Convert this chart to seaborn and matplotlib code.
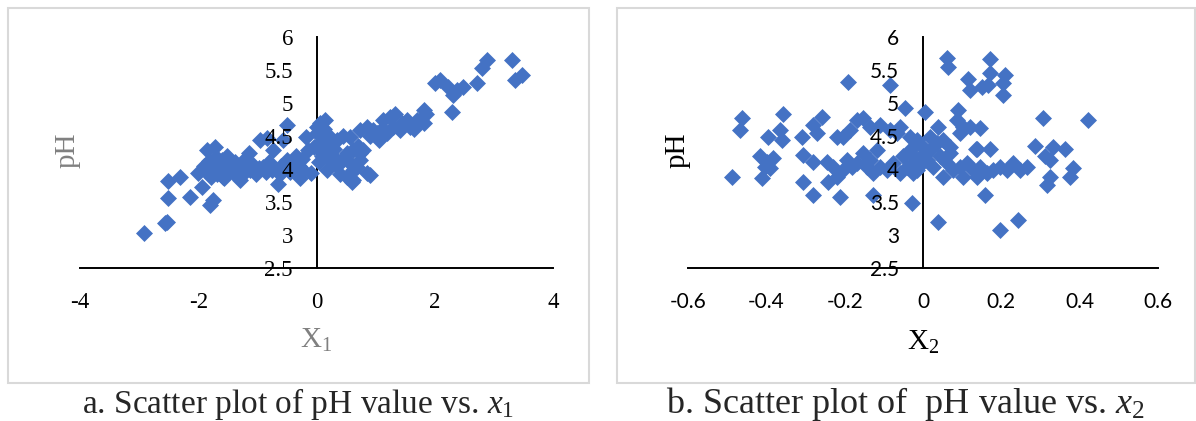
import matplotlib
matplotlib.use("Agg")
import matplotlib.pyplot as plt
import seaborn as sns
import pandas as pd
from matplotlib.patches import Rectangle

# pH vs x1 (panel a)
x1 = [-2.92, -2.56, -2.53, -2.51, -2.51, -2.31, -2.14, -1.75, -1.80, -1.94, -2.00, -1.86, -1.72,
      -1.90, -1.85, -1.82, -1.78, -1.75, -1.70, -1.68, -1.65, -1.62, -1.60, -1.57, -1.55, -1.52,
      -1.46, -1.58, -1.42, -1.38, -1.35, -1.30, -1.29, -1.25, -1.20, -1.15, -1.12, -1.08, -1.02,
      -0.98, -0.96, -0.84, -0.90, -0.86, -0.80, -0.76, -0.73, -0.65, -0.50, -0.56, -0.50, -0.39,
      -0.45, -0.22, -0.28, -0.17, -0.14, -0.10, -0.05, 0.00, 0.00, -0.60, -0.62, -0.35, -0.30,
      -0.25, 0.06, 0.14, 0.11, 0.23, 0.34, 0.06, 0.17, 0.17, 0.23, 0.40, 0.51, 0.62, 0.51, 0.62,
      0.74, 0.79, 0.57, 0.68, 0.74, 0.62, 0.85, 0.91, 0.60, 0.57, 0.74, 0.85, 0.96, 1.02, 1.05,
      1.13, 1.24, 1.33, 1.30, 1.41, 1.53, 1.58, 1.70, 1.81, 1.81, 1.86, 2.29, 2.00, 2.09, 2.23,
      2.31, 2.37, 2.48, 2.71, 2.80, 2.88, 3.30, 3.36, 3.47, 0.30, 0.45, 0.35, 0.28, 0.10, 0.05,
      0.00, 0.12, 0.90, 1.10, 1.20, 1.45, 1.65, 0.70, 0.45]
ph1 = [3.03, 3.18, 3.20, 3.56, 3.82, 3.88, 3.58, 3.53, 3.45, 3.73, 3.94, 4.29, 4.34,
       4.05, 3.95, 4.12, 3.88, 4.02, 4.18, 3.92, 4.08, 3.98, 4.14, 3.86, 4.04, 4.19,
       4.03, 3.88, 3.95, 4.10, 3.90, 4.02, 3.83, 4.12, 3.97, 4.24, 3.98, 4.06, 3.92,
       4.02, 4.44, 4.47, 4.03, 3.95, 4.10, 3.98, 4.29, 3.78, 4.67, 4.44, 4.14, 4.09,
       3.95, 3.98, 3.86, 4.49, 4.29, 3.94, 4.34, 4.64, 4.54, 4.05, 3.92, 4.20, 4.05,
       4.15, 4.69, 4.74, 4.44, 4.49, 4.44, 4.29, 4.34, 3.98, 4.14, 3.93, 3.88, 3.83, 4.24, 4.29,
       4.24, 4.29, 4.09, 4.03, 4.14, 3.98, 3.94, 3.91, 3.81, 4.49, 4.59, 4.64, 4.59, 4.54, 4.44,
       4.74, 4.79, 4.84, 4.64, 4.59, 4.74, 4.64, 4.74, 4.69, 4.89, 4.84, 4.87, 5.30, 5.35, 5.25,
       5.12, 5.20, 5.25, 5.30, 5.53, 5.65, 5.65, 5.35, 5.42, 4.30, 4.15, 4.05, 4.20, 4.20, 4.10,
       4.35, 4.60, 4.50, 4.60, 4.55, 4.70, 4.60, 4.35, 4.50]

# pH vs x2 (panel b)
x2 = [-0.488, -0.463, -0.467, -0.416, -0.399, -0.382, -0.391, -0.412, -0.403, -0.395, -0.357,
      -0.365, -0.361, -0.310, -0.306, -0.306, -0.280, -0.280, -0.280, -0.259, -0.271, -0.246,
      -0.229, -0.242, -0.220, -0.212, -0.220, -0.203, -0.186, -0.169, -0.152, -0.191, -0.195,
      -0.182, -0.203, -0.169, -0.152, -0.135, -0.144, -0.118, -0.127, -0.135, -0.110, -0.084,
      -0.067, -0.059, -0.127, -0.084, -0.046, -0.110, -0.093, -0.076, -0.059, -0.042, -0.025,
      -0.050, -0.033, -0.016, -0.029,
      0.060, 0.065, 0.171, 0.171, 0.209, 0.205, 0.116, 0.120, 0.150, 0.167, 0.205, 0.005, 0.090,
      0.307, 0.422, 0.086, 0.103, 0.094, 0.120, 0.146, 0.039, -0.033, -0.016, 0.018, 0.035, 0.052,
      0.069, 0.137, 0.171, 0.286, 0.333, 0.363, 0.311, 0.324, 0.197, 0.214, 0.231, 0.248, 0.265,
      0.324, 0.316, 0.384, 0.375, 0.158, 0.039, 0.197, 0.243,
      -0.025, -0.008, 0.009, 0.026, 0.043, 0.060, 0.077, 0.094, 0.112, 0.128, 0.146, 0.163,
      0.179, 0.052, 0.103, 0.137, -0.016, 0.018, 0.069, 0.135, 0.001, -0.010, -0.005, -0.020]
ph2 = [3.88, 4.77, 4.59, 4.19, 4.11, 4.16, 4.01, 3.86, 4.03, 4.49, 4.84,
       4.59, 4.44, 4.49, 4.21, 3.81, 3.61, 4.11, 4.67, 4.79, 4.54, 4.11,
       4.03, 3.81, 3.88, 3.58, 4.49, 4.49, 4.59, 4.74, 4.77, 5.32, 4.14,
       4.03, 3.98, 4.09, 4.24, 4.14, 4.03, 4.29, 3.94, 4.64, 4.67, 4.59,
       4.54, 4.64, 3.61, 5.27, 4.92, 4.03, 3.98, 4.09, 3.94, 4.03, 3.94,
       4.19, 4.29, 4.39, 3.48,
       5.68, 5.55, 5.66, 5.45, 5.42, 5.30, 5.37, 5.20, 5.25, 5.27, 5.12, 4.87, 4.90,
       4.78, 4.74, 4.74, 4.64, 4.54, 4.64, 4.62, 4.64, 4.49, 4.44, 4.49, 4.39, 4.44,
       4.34, 4.31, 4.30, 4.35, 4.34, 4.31, 4.19, 4.14, 4.03, 3.98, 4.09, 3.98, 4.03,
       3.88, 3.76, 4.01, 3.88, 3.61, 3.20, 3.08, 3.23,
       4.19, 4.09, 4.14, 4.03, 4.19, 4.09, 3.98, 4.03, 4.09, 3.98, 4.03, 3.94,
       3.98, 3.88, 3.88, 3.88, 3.98, 4.29, 4.24, 4.31, 4.34, 4.05, 4.20, 4.12]

xticks1 = [-4, -2, 0, 2, 4]
xticks2 = [-0.6, -0.4, -0.2, 0, 0.2, 0.4, 0.6]
yticks = [2.5, 3, 3.5, 4, 4.5, 5, 5.5, 6]

sns.set_style("white")
plt.rcParams['font.family'] = ['Liberation Serif', 'DejaVu Serif']
plt.rcParams['mathtext.fontset'] = 'custom'
plt.rcParams['mathtext.rm'] = 'Liberation Serif'
plt.rcParams['mathtext.it'] = 'Liberation Serif:italic'

W, H = 1196, 421
fig = plt.figure(figsize=(W / 100, H / 100), dpi=100)
blue = '#4472C4'
gray = '#808080'


def px_axes(x0, x1, y0, y1):
    return fig.add_axes([x0 / W, 1 - y1 / H, (x1 - x0) / W, (y1 - y0) / H])


def style(ax, xt):
    for s in ['top', 'right']:
        ax.spines[s].set_visible(False)
    ax.spines['left'].set_position(('data', 0))
    for s in ['left', 'bottom']:
        ax.spines[s].set_color('black')
        ax.spines[s].set_linewidth(1.4)
        ax.spines[s].set_zorder(2)
    ax.set_xticks(xt, ['%g' % v for v in xt])
    ax.set_yticks(yticks, ['%g' % v for v in yticks])
    ax.set_ylim(2.5, 6)
    ax.tick_params(axis='both', length=0, pad=17, labelcolor='black')
    ax.yaxis.set_zorder(4)
    ax.set_xlabel('')
    ax.set_ylabel('')


def tick_font(ax, family, size):
    for lab in ax.get_xticklabels() + ax.get_yticklabels():
        lab.set_fontfamily(family)
        lab.set_fontsize(size)


ax1 = px_axes(80, 553, 37, 268)
sns.scatterplot(x=x1, y=ph1, ax=ax1, marker='D', s=75, color=blue, linewidth=0, zorder=3)
ax1.set_xlim(-4, 4)
style(ax1, xticks1)

ax2 = px_axes(688, 1158, 37, 268)
sns.scatterplot(x=x2, y=ph2, ax=ax2, marker='D', s=75, color=blue, linewidth=0, zorder=3)
ax2.set_xlim(-0.6, 0.6)
style(ax2, xticks2)

fig.canvas.draw()
tick_font(ax1, ['Liberation Serif'], 16.5)
tick_font(ax2, ['Lato'], 15)

# panel borders
for (bx0, bx1) in [(8, 589), (617, 1195)]:
    fig.add_artist(Rectangle((bx0 / W, 1 - 383 / H), (bx1 - bx0) / W, (383 - 8) / H,
                             transform=fig.transFigure, fill=False, ec='#d9d9d9', lw=1.5))

# axis titles
fig.text(68 / W, 1 - 150 / H, 'pH', rotation=90, ha='center', va='center', fontsize=21, color=gray)
fig.text(316 / W, 1 - 340 / H, r'X$_1$', ha='center', va='center', fontsize=21, color=gray)
fig.text(678 / W, 1 - 150 / H, 'pH', rotation=90, ha='center', va='center', fontsize=21, color='black')
fig.text(923 / W, 1 - 342 / H, r'X$_2$', ha='center', va='center', fontsize=21, color='black')

# captions
fig.text(298 / W, 1 - 404 / H, r'a. Scatter plot of pH value vs. $x_1$', ha='center', va='center', fontsize=24)
fig.text(905 / W, 1 - 404 / H, r'b. Scatter plot of  pH value vs. $x_2$', ha='center', va='center', fontsize=26)

fig.savefig('out.png', dpi=100)
